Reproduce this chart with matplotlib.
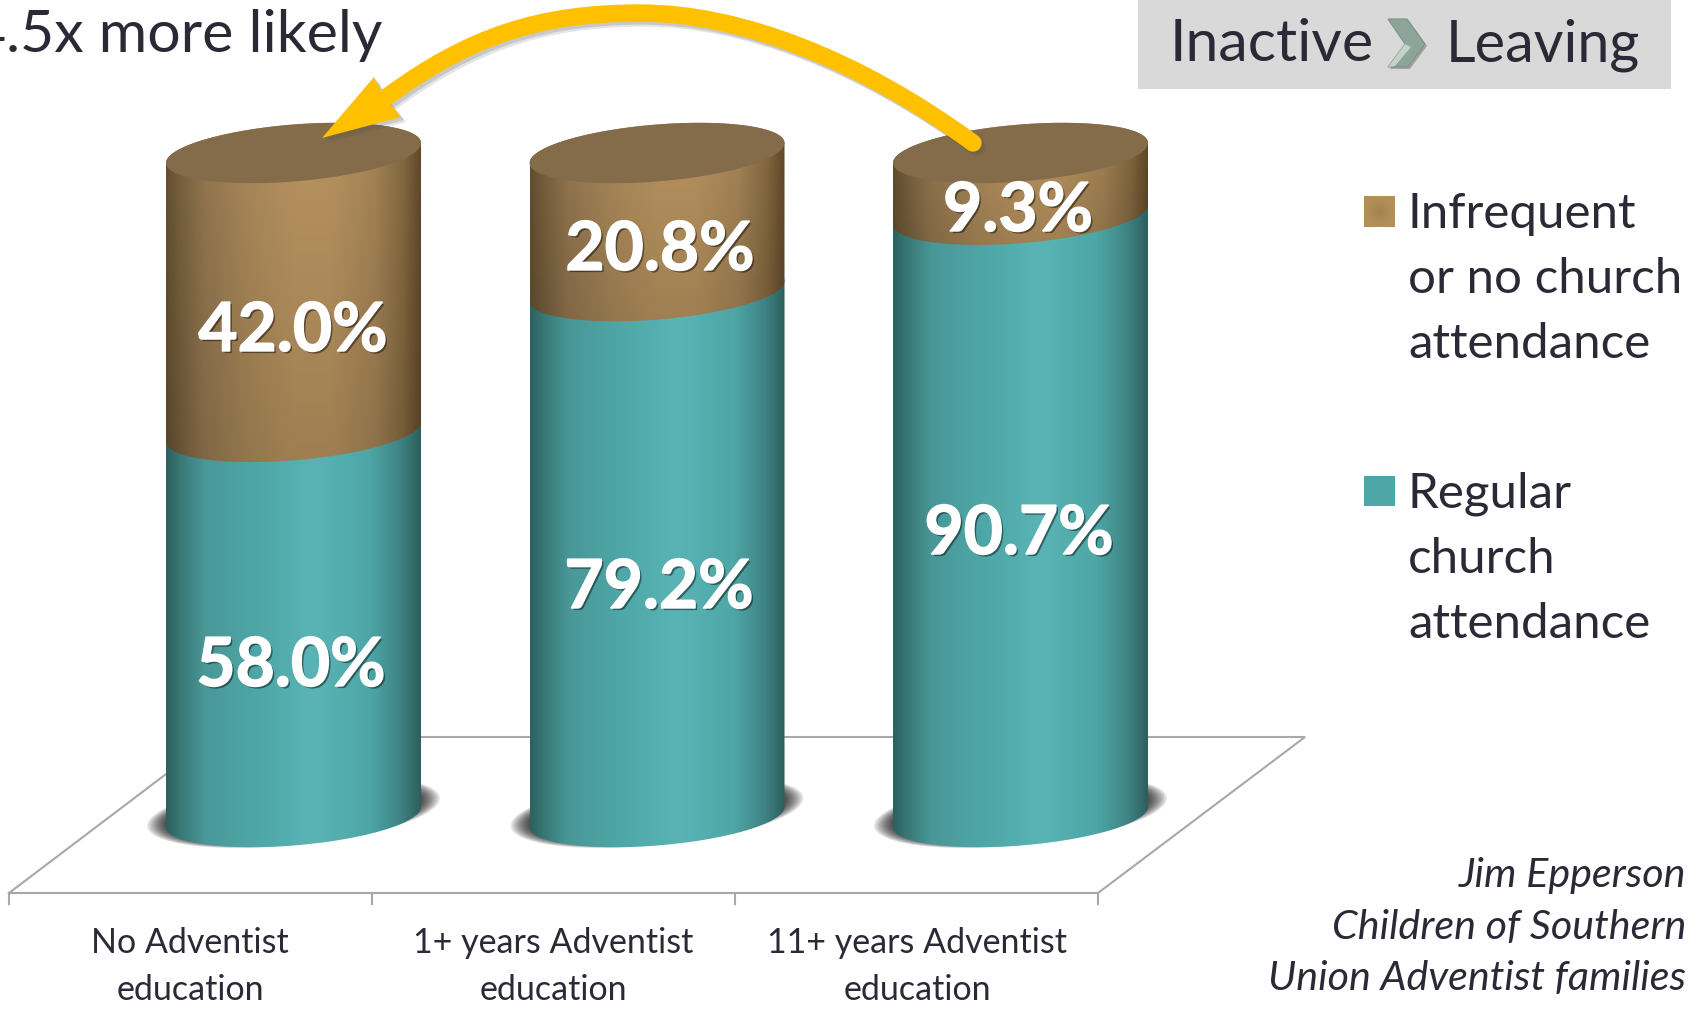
import matplotlib
matplotlib.use('Agg')
import matplotlib.pyplot as plt
import matplotlib.patheffects as pe
import numpy as np
from matplotlib.patches import Polygon, PathPatch, Rectangle
from matplotlib.path import Path

plt.rcParams['font.family'] = ['Lato', 'DejaVu Sans']

categories = ['No Adventist\neducation', '1+ years Adventist\neducation', '11+ years Adventist\neducation']
regular = [58.0, 79.2, 90.7]
infrequent = [42.0, 20.8, 9.3]
legend_infrequent = 'Infrequent\nor no church\nattendance'
legend_regular = 'Regular\nchurch\nattendance'
title = '4.5x more likely'
credit = ['Jim Epperson', 'Children of Southern', 'Union Adventist families']

W, H = 1700, 1009
TEXT = '#2A2A36'
LINE = '#A8A8A8'

# pixel layout of the chart, category 0 centre and the 0/100 levels
X0, DX = 293.5, 363.5
Y0, Y100 = 817, 153
PCT = 100 / (Y0 - Y100)

fig = plt.figure(figsize=(W / 100, H / 100), dpi=100, facecolor='white')
ax = fig.add_axes([0, 0, 1, 1])


def px(x):
    return (np.asarray(x, dtype=float) - X0) / DX


def py(y):
    return (Y0 - np.asarray(y, dtype=float)) * PCT


XLIM = (px(0), px(W))
YLIM = (py(H), py(0))
A = 127.5 / DX
B = 28.5 * PCT
K = 10 * PCT


def ring(i, level, t, scale=1.0, b=B, k=K):
    return np.column_stack([i + scale * A * np.cos(t), level + scale * (k * np.cos(t) + b * np.sin(t))])


def shade(stops, vert=None):
    xs = np.linspace(0, 1, 256)
    pos = [s[0] for s in stops]
    rgb = [matplotlib.colors.to_rgb(s[1]) for s in stops]
    row = np.column_stack([np.interp(xs, pos, [c[j] for c in rgb]) for j in range(3)])
    if vert is None:
        return row[None, :, :]
    factor = np.linspace(vert[0], vert[1], 128)[:, None, None]
    return np.clip(row[None, :, :] * factor, 0, 1)


teal_stops = [(0, '#2C615F'), (0.05, '#377673'), (0.15, '#4A9798'), (0.35, '#4EA6A6'), (0.58, '#5AB4B5'),
              (0.8, '#4EA6A6'), (0.92, '#3F8485'), (1, '#2C5F5D')]
brown_stops = [(0, '#66502F'), (0.05, '#76603D'), (0.15, '#957750'), (0.32, '#AA895A'), (0.5, '#B8935F'),
               (0.65, '#B8935F'), (0.82, '#A58456'), (0.93, '#866A41'), (1, '#63492A')]
front = np.linspace(np.pi, 2 * np.pi, 60)
back = np.linspace(0, np.pi, 60)
whole = np.linspace(0, 2 * np.pi, 120)


def body(i, low, high, stops, vert, z):
    pts = np.vstack([ring(i, low, front), ring(i, high, back)])
    im = ax.imshow(shade(stops, vert), extent=[i - A, i + A, low - B - K, high + B + K],
                   aspect='auto', origin='upper', zorder=z, interpolation='bilinear')
    clip = Polygon(pts, closed=True, transform=ax.transData, facecolor='none', edgecolor='none')
    ax.add_patch(clip)
    im.set_clip_path(clip)


# floor
floor_x = [9, 215, 1305, 1098, 9]
floor_y = [893, 737, 737, 893, 893]
ax.plot(px(floor_x), py(floor_y), color=LINE, lw=1.5, zorder=1, solid_joinstyle='miter')
for tx in [9, 372, 735, 1098]:
    ax.plot(px([tx, tx]), py([893, 904]), color=LINE, lw=1.5, zorder=1)

# cylinders
for i in range(3):
    # soft shadow under the base
    for s in np.linspace(1.15, 1.0, 14):
        pts = ring(i, py(812), whole, scale=s, b=29 * PCT, k=12 * PCT)
        ax.add_patch(Polygon(pts, closed=True, facecolor='black', edgecolor='none', alpha=0.08, zorder=2))
    split = regular[i]
    top = regular[i] + infrequent[i]
    body(i, 0, split, teal_stops, None, 3)
    body(i, split, top, brown_stops, (1.0, 0.86), 4)
    ax.add_patch(Polygon(ring(i, top, whole), closed=True, facecolor='#846B49', edgecolor='none', zorder=5))

# value labels
shadow = [pe.SimplePatchShadow(offset=(1.5, -1.5), shadow_rgbFace='black', alpha=0.45),
          pe.Stroke(linewidth=1.0, foreground='white'), pe.Normal()]
label_x = [291, 659, 1019]
label_reg_y = [686, 608, 554]
label_top_x = [293, 660, 1018]
label_top_y = [351, 270, 231]
for i in range(3):
    ax.text(px(label_x[i]), py(label_reg_y[i]), '%.1f%%' % regular[i], color='white', fontsize=48.7,
            fontweight='bold', ha='center', va='baseline', zorder=8, path_effects=shadow)
    ax.text(px(label_top_x[i]), py(label_top_y[i]), '%.1f%%' % infrequent[i], color='white', fontsize=48.7,
            fontweight='bold', ha='center', va='baseline', zorder=8, path_effects=shadow)

# category labels
cat_x = [190, 553, 917]
for i, name in enumerate(categories):
    line1, line2 = name.split('\n')
    ax.text(px(cat_x[i]), py(953), line1, color=TEXT, fontsize=24.5, ha='center', va='baseline')
    ax.text(px(cat_x[i]), py(1000), line2, color=TEXT, fontsize=24.5, ha='center', va='baseline')

# curved arrow
verts = [(388, 96), (470, 36), (540, 13), (640, 13), (740, 13), (860, 60), (973, 143)]
codes = [Path.MOVETO, Path.CURVE4, Path.CURVE4, Path.CURVE4, Path.CURVE4, Path.CURVE4, Path.CURVE4]
verts = np.array(verts, dtype=float)
head_x = [322, 374, 384, 401]
head_y = [138, 77, 96, 117]
for dx, dy, col, al, z in [(5, 5, '#555555', 0.15, 6), (3, 3, '#555555', 0.2, 6), (0, 0, '#FFC000', 1.0, 7)]:
    shaft = Path(np.column_stack([px(verts[:, 0] + dx), py(verts[:, 1] + dy)]), codes)
    ax.add_patch(PathPatch(shaft, facecolor='none', edgecolor=col, lw=12.5, capstyle='round', alpha=al, zorder=z))
    ax.add_patch(Polygon(np.column_stack([px(np.array(head_x) + dx), py(np.array(head_y) + dy)]), closed=True,
                         facecolor=col, edgecolor='none', alpha=al, zorder=z))

# top left note
ax.text(px(382), py(52), title, color=TEXT, fontsize=42.5, ha='right', va='baseline', clip_on=True)

# header box
ax.add_patch(Rectangle((px(1138), py(89)), px(1671) - px(1138), py(0) - py(89), facecolor='#D9D9D9',
                       edgecolor='none', zorder=1))
ax.text(px(1170), py(61), 'Inactive', color=TEXT, fontsize=42.5, ha='left', va='baseline', zorder=3)
ax.text(px(1446), py(61), 'Leaving', color=TEXT, fontsize=41.5, ha='left', va='baseline', zorder=3)
chev_x = [1388, 1407, 1425, 1408, 1388, 1405]
chev_y = [19, 19, 44, 67, 67, 44]
ax.add_patch(Polygon(np.column_stack([px(np.array(chev_x) + 2), py(np.array(chev_y) + 2)]), closed=True,
                     facecolor='#6E6E6E', edgecolor='none', alpha=0.5, zorder=2))
ax.add_patch(Polygon(np.column_stack([px(chev_x), py(chev_y)]), closed=True, facecolor='#8CA598',
                     edgecolor='#7A9487', lw=0.8, zorder=3))
ax.add_patch(Polygon(np.column_stack([px([1388, 1405, 1411, 1395]), py([67, 44, 47, 66])]), closed=True,
                     facecolor='#C3D3CB', edgecolor='none', zorder=4))

# legend
box_y = [197, 476]
box_edge = ['#B49159', '#4FA6A6']
box_mid = ['#A5834F', '#4FA6A6']
text_y = [[228, 293, 358], [508, 573, 638]]
gx, gy = np.meshgrid(np.linspace(-1, 1, 32), np.linspace(-1, 1, 32))
rad = np.clip(np.hypot(gx, gy), 0, 1)[:, :, None]
for n, block in enumerate([legend_infrequent, legend_regular]):
    c0 = np.array(matplotlib.colors.to_rgb(box_mid[n]))
    c1 = np.array(matplotlib.colors.to_rgb(box_edge[n]))
    ax.imshow(c0 + (c1 - c0) * rad, extent=[px(1364), px(1395), py(box_y[n] + 30), py(box_y[n])],
              aspect='auto', zorder=3, interpolation='bilinear')
    for line, yy in zip(block.split('\n'), text_y[n]):
        ax.text(px(1408), py(yy), line, color=TEXT, fontsize=35.5, ha='left', va='baseline')

# source credit
credit_y = [887, 939, 990]
for line, yy in zip(credit, credit_y):
    ax.text(px(1686), py(yy), line, color=TEXT, fontsize=29.7, fontstyle='italic', ha='right', va='baseline')

ax.set_xlim(*XLIM)
ax.set_ylim(*YLIM)
ax.axis('off')
fig.savefig('out.png', dpi=100, facecolor='white')
